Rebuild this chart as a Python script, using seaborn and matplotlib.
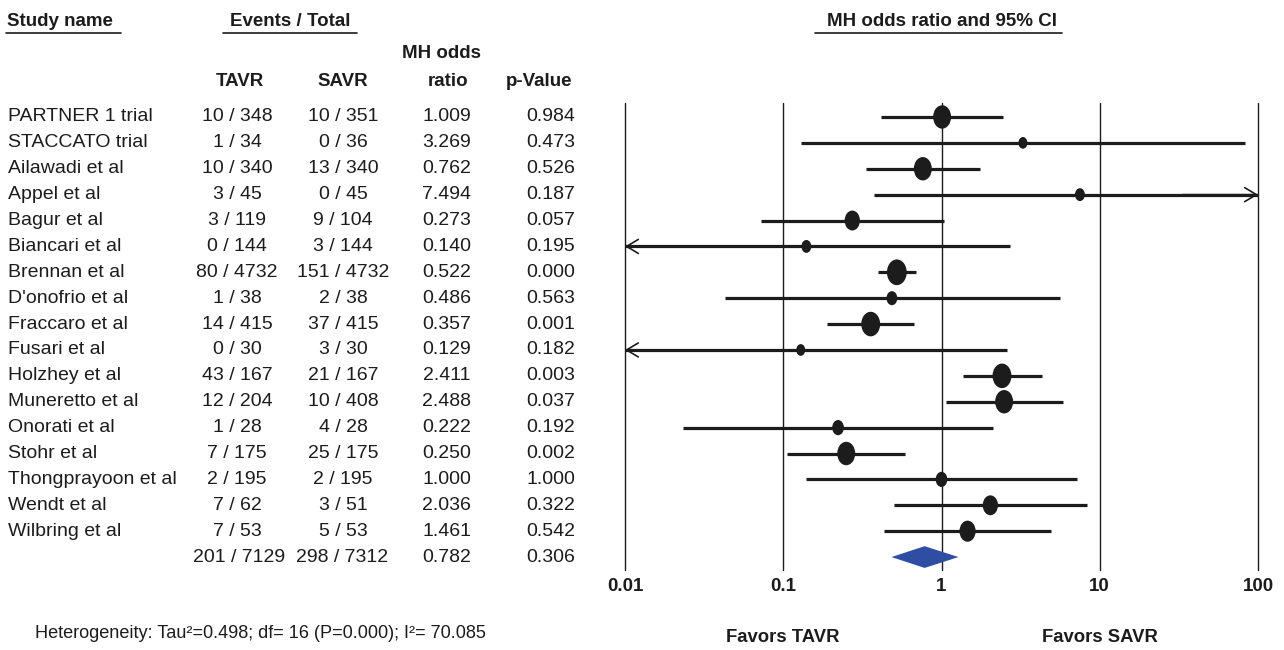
import numpy as np
import pandas as pd
import matplotlib
matplotlib.use("Agg")
import matplotlib.pyplot as plt
import matplotlib.transforms as mtransforms
from matplotlib.path import Path
from matplotlib.lines import Line2D
import seaborn as sns

##----------- Data --------------##
studies = ["PARTNER 1 trial", "STACCATO trial", "Ailawadi et al", "Appel et al",
           "Bagur et al", "Biancari et al", "Brennan et al", "D'onofrio et al",
           "Fraccaro et al", "Fusari et al", "Holzhey et al", "Muneretto et al",
           "Onorati et al", "Stohr et al", "Thongprayoon et al", "Wendt et al",
           "Wilbring et al"]
tavr = ["10 / 348", "1 / 34", "10 / 340", "3 / 45", "3 / 119", "0 / 144", "80 / 4732",
        "1 / 38", "14 / 415", "0 / 30", "43 / 167", "12 / 204", "1 / 28", "7 / 175",
        "2 / 195", "7 / 62", "7 / 53"]
savr = ["10 / 351", "0 / 36", "13 / 340", "0 / 45", "9 / 104", "3 / 144", "151 / 4732",
        "2 / 38", "37 / 415", "3 / 30", "21 / 167", "10 / 408", "4 / 28", "25 / 175",
        "2 / 195", "3 / 51", "5 / 53"]
odds_ratio = [1.009, 3.269, 0.762, 7.494, 0.273, 0.140, 0.522, 0.486, 0.357, 0.129,
              2.411, 2.488, 0.222, 0.250, 1.000, 2.036, 1.461]
p_value = ["0.984", "0.473", "0.526", "0.187", "0.057", "0.195", "0.000", "0.563",
           "0.001", "0.182", "0.003", "0.037", "0.192", "0.002", "1.000", "0.322", "0.542"]
ci_lower = [0.414, 0.130, 0.332, 0.377, 0.0724, 0.0072, 0.396, 0.0428, 0.190, 0.0064,
            1.36, 1.06, 0.0232, 0.105, 0.139, 0.501, 0.433]
ci_upper = [2.45, 82.7, 1.76, 149.0, 1.04, 2.72, 0.687, 5.61, 0.667, 2.59,
            4.33, 5.87, 2.11, 0.591, 7.14, 8.27, 4.94]
weights = [8.35, 2.09, 8.35, 2.53, 6.03, 2.53, 10.1, 3.0, 9.2, 2.09,
           9.2, 8.35, 3.53, 8.35, 3.53, 6.03, 6.76]

summary_tavr = "201 / 7129"
summary_savr = "298 / 7312"
summary_or = 0.782
summary_lower = 0.483
summary_upper = 1.28
summary_p = "0.306"

x_ticks = [0.01, 0.1, 1, 10, 100]
x_tick_labels = ["0.01", "0.1", "1", "10", "100"]
heterogeneity = "Heterogeneity: Tau\u00b2=0.498; df= 16 (P=0.000); I\u00b2= 70.085"

##----------- Plot --------------##
sns.set_style("white")
plt.rcParams['font.family'] = ['Liberation Sans', 'DejaVu Sans']

ink = "#1c1c1c"
W, H = 1284, 650
fig = plt.figure(figsize=(W / 100, H / 100), dpi=100)

def fx(px):
    return px / W

def fy(py):
    return 1 - py / H

ax = fig.add_axes([fx(625), fy(570), fx(1258 - 625), (570 - 103) / H])

df = pd.DataFrame({"study": studies, "odds_ratio": odds_ratio, "lower": ci_lower,
                   "upper": ci_upper, "weight": weights})
df["row"] = np.arange(len(df))
n = len(df)
xmin, xmax = x_ticks[0], x_ticks[-1]

ax.set_xscale("log")
ax.set_xlim(xmin, xmax)
ax.set_ylim(n + 0.5, -0.54)

for t in x_ticks:
    ax.axvline(t, color=ink, lw=1.0, zorder=1, clip_on=False)

# confidence intervals
lo_c = df["lower"].clip(xmin, xmax)
hi_c = df["upper"].clip(xmin, xmax)
ax.hlines(df["row"], lo_c, hi_c, color=ink, lw=2.3, zorder=2)

arrow_kw = dict(arrowstyle="->,head_length=0.6,head_width=0.36", lw=1.2, color=ink,
                shrinkA=0, shrinkB=0, mutation_scale=14)
for _, r in df.iterrows():
    if r["upper"] > xmax:
        ax.annotate("", xy=(xmax, r["row"]), xytext=(xmax / 3, r["row"]),
                    arrowprops=arrow_kw, zorder=3, annotation_clip=False)
    if r["lower"] < xmin:
        ax.annotate("", xy=(xmin, r["row"]), xytext=(xmin * 3, r["row"]),
                    arrowprops=arrow_kw, zorder=3, annotation_clip=False)

# point estimates, area proportional to weight
ellipse = Path.unit_circle().transformed(mtransforms.Affine2D().scale(1, 1.3))
k = 34
wmin, wmax = min(weights), max(weights)
sns.scatterplot(data=df, x="odds_ratio", y="row", size="weight",
                sizes=(wmin * k, wmax * k), size_norm=(wmin, wmax),
                marker=ellipse, color=ink, edgecolor="none", linewidth=0,
                legend=False, ax=ax, zorder=4)

# summary diamond
ys = n
half = 0.42
ax.fill([summary_lower, summary_or, summary_upper, summary_or],
        [ys, ys - half, ys, ys + half], color="#2f4ea3", lw=0, zorder=4)

ax.set_xticks(x_ticks)
ax.set_xticklabels(x_tick_labels, fontsize=13.5, fontweight="bold", color=ink)
ax.minorticks_off()
ax.tick_params(axis="x", length=0, pad=6)
ax.set_yticks([])
ax.set_xlabel("")
ax.set_ylabel("")
for s in ax.spines.values():
    s.set_visible(False)

favors_tr = mtransforms.blended_transform_factory(ax.transData, fig.transFigure)
ax.text(x_ticks[1], fy(637), "Favors TAVR", transform=favors_tr, ha="center",
        va="center", fontsize=13.3, fontweight="bold", color=ink)
ax.text(x_ticks[3], fy(637), "Favors SAVR", transform=favors_tr, ha="center",
        va="center", fontsize=13.3, fontweight="bold", color=ink)

# left table, rows aligned with the forest axis
tr = mtransforms.blended_transform_factory(fig.transFigure, ax.transData)
fs = 14
for i in range(n):
    fig.text(fx(8), i, studies[i], transform=tr, ha="left", va="center", fontsize=fs, color=ink)
    fig.text(fx(237), i, tavr[i], transform=tr, ha="center", va="center", fontsize=fs, color=ink)
    fig.text(fx(343), i, savr[i], transform=tr, ha="center", va="center", fontsize=fs, color=ink)
    fig.text(fx(471), i, f"{odds_ratio[i]:.3f}", transform=tr, ha="right", va="center", fontsize=fs, color=ink)
    fig.text(fx(575), i, p_value[i], transform=tr, ha="right", va="center", fontsize=fs, color=ink)
fig.text(fx(239), n, summary_tavr, transform=tr, ha="center", va="center", fontsize=fs, color=ink)
fig.text(fx(342), n, summary_savr, transform=tr, ha="center", va="center", fontsize=fs, color=ink)
fig.text(fx(471), n, f"{summary_or:.3f}", transform=tr, ha="right", va="center", fontsize=fs, color=ink)
fig.text(fx(575), n, summary_p, transform=tr, ha="right", va="center", fontsize=fs, color=ink)

# headers
hkw = dict(fontsize=13.5, fontweight="bold", color=ink, va="center")
fig.text(fx(7), fy(21), "Study name", ha="left", **hkw)
fig.text(fx(290), fy(21), "Events / Total", ha="center", **hkw)
fig.text(fx(942), fy(21), "MH odds ratio and 95% CI", ha="center", **hkw)
fig.text(fx(240), fy(81), "TAVR", ha="center", **hkw)
fig.text(fx(343), fy(81), "SAVR", ha="center", **hkw)
fig.text(fx(441), fy(53), "MH odds", ha="center", **hkw)
fig.text(fx(448), fy(81), "ratio", ha="center", **hkw)
fig.text(fx(539), fy(81), "p-Value", ha="center", **hkw)
for x0, x1 in [(6, 121), (223, 357), (815, 1062)]:
    fig.add_artist(Line2D([fx(x0), fx(x1)], [fy(33), fy(33)], color=ink, lw=1.2,
                          transform=fig.transFigure))

fig.text(fx(35), fy(633), heterogeneity, ha="left", va="center", fontsize=13.1, color=ink)

plt.savefig("out.png", dpi=100)
plt.close()
